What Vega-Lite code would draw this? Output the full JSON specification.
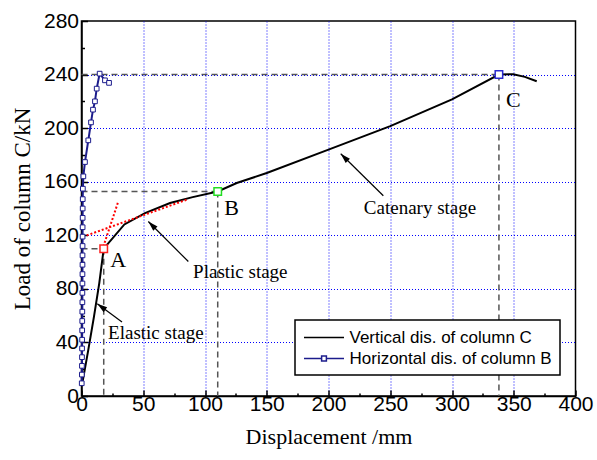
{
  "$schema": "https://vega.github.io/schema/vega-lite/v6.json",
  "width": 494,
  "height": 375,
  "autosize": "none",
  "padding": {"left": 81.5, "top": 21, "right": 21.5, "bottom": 64},
  "background": "white",
  "config": {"view": {"stroke": "black", "strokeWidth": 1.5}, "font": "Liberation Sans"},
  "datasets": {
    "curves": [
      {"s": "Vertical dis. of column C", "x": 0.65, "y": 9.5},
      {"s": "Vertical dis. of column C", "x": 5.5, "y": 34.4},
      {"s": "Vertical dis. of column C", "x": 10.1, "y": 59.3},
      {"s": "Vertical dis. of column C", "x": 14.4, "y": 84.3},
      {"s": "Vertical dis. of column C", "x": 18, "y": 110},
      {"s": "Vertical dis. of column C", "x": 34.7, "y": 128.1},
      {"s": "Vertical dis. of column C", "x": 51.4, "y": 136.6},
      {"s": "Vertical dis. of column C", "x": 71.7, "y": 144.1},
      {"s": "Vertical dis. of column C", "x": 90, "y": 148.5},
      {"s": "Vertical dis. of column C", "x": 110.3, "y": 152.7},
      {"s": "Vertical dis. of column C", "x": 125.7, "y": 159},
      {"s": "Vertical dis. of column C", "x": 150, "y": 166.5},
      {"s": "Vertical dis. of column C", "x": 200, "y": 184},
      {"s": "Vertical dis. of column C", "x": 250, "y": 201.5},
      {"s": "Vertical dis. of column C", "x": 300, "y": 221.5},
      {"s": "Vertical dis. of column C", "x": 338, "y": 240},
      {"s": "Vertical dis. of column C", "x": 349.6, "y": 240.3},
      {"s": "Vertical dis. of column C", "x": 359, "y": 238.3},
      {"s": "Vertical dis. of column C", "x": 368.6, "y": 235},
      {"s": "Horizontal dis. of column B", "x": 0.2, "y": 9.5},
      {"s": "Horizontal dis. of column B", "x": 0.3, "y": 16},
      {"s": "Horizontal dis. of column B", "x": 0.35, "y": 22.5},
      {"s": "Horizontal dis. of column B", "x": 0.4, "y": 29},
      {"s": "Horizontal dis. of column B", "x": 0.45, "y": 35.5},
      {"s": "Horizontal dis. of column B", "x": 0.5, "y": 42},
      {"s": "Horizontal dis. of column B", "x": 0.55, "y": 49},
      {"s": "Horizontal dis. of column B", "x": 0.6, "y": 56},
      {"s": "Horizontal dis. of column B", "x": 0.65, "y": 63},
      {"s": "Horizontal dis. of column B", "x": 0.7, "y": 70},
      {"s": "Horizontal dis. of column B", "x": 0.72, "y": 77},
      {"s": "Horizontal dis. of column B", "x": 0.75, "y": 84},
      {"s": "Horizontal dis. of column B", "x": 0.78, "y": 91},
      {"s": "Horizontal dis. of column B", "x": 0.8, "y": 98},
      {"s": "Horizontal dis. of column B", "x": 0.82, "y": 105},
      {"s": "Horizontal dis. of column B", "x": 0.85, "y": 112},
      {"s": "Horizontal dis. of column B", "x": 0.88, "y": 119},
      {"s": "Horizontal dis. of column B", "x": 0.9, "y": 126},
      {"s": "Horizontal dis. of column B", "x": 0.93, "y": 133},
      {"s": "Horizontal dis. of column B", "x": 0.96, "y": 140},
      {"s": "Horizontal dis. of column B", "x": 1.0, "y": 147},
      {"s": "Horizontal dis. of column B", "x": 1.1, "y": 154.8},
      {"s": "Horizontal dis. of column B", "x": 1.5, "y": 164},
      {"s": "Horizontal dis. of column B", "x": 2.8, "y": 174.7},
      {"s": "Horizontal dis. of column B", "x": 5.5, "y": 190.9},
      {"s": "Horizontal dis. of column B", "x": 7.7, "y": 204.3},
      {"s": "Horizontal dis. of column B", "x": 9.3, "y": 213.8},
      {"s": "Horizontal dis. of column B", "x": 10.9, "y": 220},
      {"s": "Horizontal dis. of column B", "x": 12.3, "y": 229.5},
      {"s": "Horizontal dis. of column B", "x": 14.7, "y": 240.7},
      {"s": "Horizontal dis. of column B", "x": 19, "y": 235.7},
      {"s": "Horizontal dis. of column B", "x": 22.3, "y": 233.8}
    ],
    "guides": [
      {"x": 0, "y": 110, "x2": 18, "y2": 110},
      {"x": 18, "y": 110, "x2": 18, "y2": 0},
      {"x": 0, "y": 152.7, "x2": 110.3, "y2": 152.7},
      {"x": 110.3, "y": 152.7, "x2": 110.3, "y2": 0},
      {"x": 0, "y": 240, "x2": 338, "y2": 240},
      {"x": 338, "y": 240, "x2": 338, "y2": 0}
    ],
    "tangents": [
      {"x": 4.2, "y": 119.9, "x2": 85, "y2": 146.5},
      {"x": 17.7, "y": 111.6, "x2": 29.8, "y2": 145.3}
    ],
    "keypoints": [
      {"pt": "A", "x": 18, "y": 110},
      {"pt": "B", "x": 110.3, "y": 152.7},
      {"pt": "C", "x": 338, "y": 240}
    ],
    "letters": [
      {"t": "A", "x": 29.8, "y": 101.7},
      {"t": "B", "x": 121.6, "y": 140.3},
      {"t": "C", "x": 349.6, "y": 221.3}
    ],
    "stages": [
      {"t": "Elastic stage", "x": 60.2, "y": 47.1},
      {"t": "Plastic stage", "x": 128.6, "y": 92.9},
      {"t": "Catenary stage", "x": 274.1, "y": 140.6}
    ],
    "arrows": [
      {"a": "elastic", "x": 32.8, "y": 55.3, "x2": 12.8, "y2": 68.8},
      {"a": "plastic", "x": 86.5, "y": 100.4, "x2": 54.1, "y2": 130.3},
      {"a": "catenary", "x": 244.4, "y": 149.5, "x2": 209.9, "y2": 180.9}
    ]
  },
  "encoding": {
    "x": {
      "field": "x", "type": "quantitative",
      "scale": {"domain": [0, 400], "nice": false, "zero": false},
      "axis": {
        "title": "Displacement /mm", "titleFont": "Liberation Serif", "titleFontSize": 22, "titleFontWeight": "normal", "titleColor": "black", "titlePadding": 9,
        "values": [0, 25, 50, 75, 100, 125, 150, 175, 200, 225, 250, 275, 300, 325, 350, 375, 400],
        "labelExpr": "datum.value % 50 === 0 ? datum.label : ''",
        "labelFont": "Liberation Sans", "labelFontSize": 21, "labelColor": "black", "labelPadding": 3, "labelFlush": false, "labelOverlap": false,
        "tickColor": "black", "tickWidth": 1.5,
        "tickSize": {"condition": {"test": "datum.value % 50 === 0", "value": -6}, "value": -3},
        "domainColor": "black", "domainWidth": 1.5,
        "grid": true, "gridColor": "#0000ff", "gridDash": [1, 2], "gridWidth": 1,
        "gridOpacity": {"condition": {"test": "datum.value % 50 === 0 && datum.value > 0 && datum.value < 400", "value": 1}, "value": 0}
      }
    },
    "y": {
      "field": "y", "type": "quantitative",
      "scale": {"domain": [0, 280], "nice": false},
      "axis": {
        "title": "Load of column C/kN", "titleFont": "Liberation Serif", "titleFontSize": 23, "titleFontWeight": "normal", "titleColor": "black", "titlePadding": 9,
        "values": [0, 20, 40, 60, 80, 100, 120, 140, 160, 180, 200, 220, 240, 260, 280],
        "labelExpr": "datum.value % 40 === 0 ? datum.label : ''",
        "labelFont": "Liberation Sans", "labelFontSize": 21, "labelColor": "black", "labelPadding": 9, "labelFlush": false, "labelOverlap": false,
        "tickColor": "black", "tickWidth": 1.5,
        "tickSize": {"condition": {"test": "datum.value % 40 === 0", "value": -6}, "value": -3},
        "domainColor": "black", "domainWidth": 1.5,
        "grid": true, "gridColor": "#0000ff", "gridDash": [1, 2], "gridWidth": 1,
        "gridOpacity": {"condition": {"test": "datum.value % 40 === 0 && datum.value > 0 && datum.value < 280", "value": 1}, "value": 0}
      }
    }
  },
  "layer": [
    {
      "data": {"name": "guides"},
      "mark": {"type": "rule", "color": "#555555", "strokeWidth": 1.5, "strokeDash": [6, 4]},
      "encoding": {"x2": {"field": "x2"}, "y2": {"field": "y2"}}
    },
    {
      "data": {"name": "curves"},
      "mark": {"type": "line", "strokeWidth": 2},
      "encoding": {
        "color": {
          "field": "s", "type": "nominal",
          "scale": {"domain": ["Vertical dis. of column C", "Horizontal dis. of column B"], "range": ["#000000", "#1c1c8c"]},
          "legend": {
            "title": null, "orient": "none", "legendX": 213.5, "legendY": 299, "direction": "vertical",
            "fillColor": "white", "strokeColor": "black", "padding": 8, "rowPadding": 3,
            "labelFont": "Liberation Sans", "labelFontSize": 17, "labelColor": "black", "labelLimit": 400,
            "symbolSize": 289, "symbolStrokeWidth": 1.5, "symbolOffset": 11.5, "labelOffset": 16,
            "encode": {
              "symbols": {"update": {
                "shape": {"signal": "datum.value === 'Horizontal dis. of column B' ? 'M-2.353,0H-0.282M0.282,0H2.353M-0.282,-0.282H0.282V0.282H-0.282Z' : 'M-2.353,0H2.353'"},
                "fill": {"value": "white"}
              }},
              "legend": {"update": {"strokeWidth": {"value": 1.5}}}
            }
          }
        }
      }
    },
    {
      "data": {"name": "tangents"},
      "mark": {"type": "rule", "color": "#ff0000", "strokeWidth": 2, "strokeDash": [2, 2]},
      "encoding": {"x2": {"field": "x2"}, "y2": {"field": "y2"}}
    },
    {
      "data": {"name": "curves"},
      "transform": [{"filter": "datum.s === 'Horizontal dis. of column B'"}],
      "mark": {"type": "point", "shape": "square", "size": 22, "filled": true, "fill": "white", "stroke": "#1c1c8c", "strokeWidth": 1, "opacity": 1}
    },
    {
      "data": {"name": "keypoints"},
      "mark": {"type": "point", "shape": "square", "size": 56, "filled": true, "fill": "white", "strokeWidth": 1.5, "opacity": 1},
      "encoding": {
        "stroke": {"field": "pt", "type": "nominal", "scale": {"domain": ["A", "B", "C"], "range": ["#ff2020", "#22dd22", "#2a2ad0"]}, "legend": null}
      }
    },
    {
      "data": {"name": "arrows"},
      "mark": {"type": "rule", "color": "black", "strokeWidth": 1.2},
      "encoding": {"x2": {"field": "x2"}, "y2": {"field": "y2"}}
    },
    {
      "data": {"name": "arrows"},
      "transform": [{"filter": "datum.a === 'elastic'"}],
      "mark": {"type": "point", "shape": "M0,0L0.3,1L-0.3,1Z", "size": 400, "filled": true, "color": "black", "opacity": 1, "angle": 306},
      "encoding": {"x": {"field": "x2", "type": "quantitative"}, "y": {"field": "y2", "type": "quantitative"}}
    },
    {
      "data": {"name": "arrows"},
      "transform": [{"filter": "datum.a !== 'elastic'"}],
      "mark": {"type": "point", "shape": "M0,0L0.3,1L-0.3,1Z", "size": 400, "filled": true, "color": "black", "opacity": 1, "angle": 315},
      "encoding": {"x": {"field": "x2", "type": "quantitative"}, "y": {"field": "y2", "type": "quantitative"}}
    },
    {
      "data": {"name": "letters"},
      "mark": {"type": "text", "font": "Liberation Serif", "fontSize": 22, "color": "black", "align": "center", "baseline": "middle"},
      "encoding": {"text": {"field": "t"}}
    },
    {
      "data": {"name": "stages"},
      "mark": {"type": "text", "font": "Liberation Serif", "fontSize": 19, "color": "black", "align": "center", "baseline": "middle"},
      "encoding": {"text": {"field": "t"}}
    }
  ]
}
